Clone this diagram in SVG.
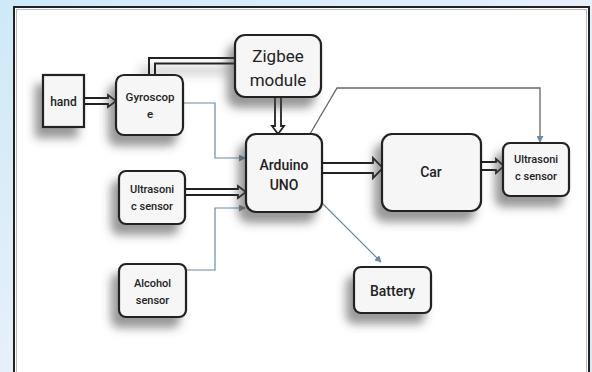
<svg xmlns="http://www.w3.org/2000/svg" width="592" height="372" viewBox="0 0 592 372">
<defs>
<linearGradient id="bg" x1="0" y1="0" x2="1" y2="1">
<stop offset="0" stop-color="#cfe9f7"/>
<stop offset="0.5" stop-color="#e6f0fa"/>
<stop offset="1" stop-color="#dbe8f6"/>
</linearGradient>
<filter id="sh" x="-40%" y="-40%" width="180%" height="200%">
<feDropShadow dx="-7" dy="10" stdDeviation="5" flood-color="#444" flood-opacity="0.55"/>
</filter>
<marker id="ah" viewBox="0 0 8 8" refX="7" refY="4" markerWidth="7" markerHeight="7" markerUnits="userSpaceOnUse" orient="auto">
<path d="M0,0 L8,4 L0,8 z" fill="#6a8aa3"/>
</marker>
<style>
.box{fill:#f6f6f6;stroke:#222;stroke-width:2.2;filter:url(#sh)}
.t{font-family:Roboto,"Liberation Sans",sans-serif;fill:#222;text-anchor:middle;font-weight:500}
.r{font-weight:400}
.thin{fill:none;stroke:#6a8aa3;stroke-width:1.2}
.gray{fill:none;stroke:#666;stroke-width:1.3}
.fat{fill:#fff;stroke:#222;stroke-width:1.8;stroke-linejoin:miter}
</style>
</defs>
<rect x="0" y="0" width="592" height="372" fill="url(#bg)"/>
<rect x="14" y="7" width="575" height="380" fill="#fff" stroke="#222" stroke-width="2"/>
<rect x="16.5" y="9.5" width="570" height="380" fill="none" stroke="#bbb" stroke-width="1"/>

<g id="connectors">
<path class="fat" d="M84,98 H108 V95 L116,101 L108,107 V104 H84"/>
<g filter="url(#sh)">
<path d="M149,75 V58 H236" fill="none" stroke="#222" stroke-width="2"/>
<path d="M155,75 V63.5 H236" fill="none" stroke="#222" stroke-width="2"/>
</g>
<path class="fat" d="M275,97 V126 H272 L278,134 L284,126 H281 V97"/>
<path class="thin" d="M183,103 H215 V158 H245" marker-end="url(#ah)"/>
<path class="fat" d="M185,189 H238 V186 L246,192 L238,198 V195 H185"/>
<path class="thin" d="M186,270 H215 V208 H245" marker-end="url(#ah)"/>
<path class="fat" d="M322,163 H373 V158 L383,168 L373,178 V173 H322"/>
<path class="fat" d="M481,162 H496 V159 L504,166 L496,173 V170 H481"/>
<path class="gray" d="M310,134 L337,88 H540 V142" marker-end="url(#ah)"/>
<path class="thin" d="M322,203 L381,262" marker-end="url(#ah)"/>
</g>

<g id="hand">
<rect class="box" x="43" y="75" width="41" height="52" rx="0"/>
<text class="t" x="63.5" y="106" font-size="12">hand</text>
</g>
<g id="gyroscope">
<rect class="box" x="116" y="75" width="67" height="60" rx="8"/>
<text class="t" x="150" y="101" font-size="11.5">Gyroscop</text>
<text class="t" x="150" y="118" font-size="11.5">e</text>
</g>
<g id="zigbee">
<rect class="box" x="235" y="35" width="86" height="62" rx="10"/>
<text class="t r" x="278" y="62" font-size="17">Zigbee</text>
<text class="t r" x="278" y="86" font-size="17">module</text>
</g>
<g id="arduino">
<rect class="box" x="246" y="134" width="76" height="78" rx="10"/>
<text class="t" x="284" y="170" font-size="14">Arduino</text>
<text class="t" x="284" y="190" font-size="14">UNO</text>
</g>
<g id="car">
<rect class="box" x="382" y="134" width="99" height="77" rx="10"/>
<text class="t" x="431" y="177" font-size="14">Car</text>
</g>
<g id="ultrasonic-right">
<rect class="box" x="503" y="143" width="66" height="53" rx="7"/>
<text class="t" x="536" y="163" font-size="11">Ultrasoni</text>
<text class="t" x="536" y="180" font-size="11">c sensor</text>
</g>
<g id="ultrasonic-left">
<rect class="box" x="119" y="171" width="66" height="53" rx="7"/>
<text class="t" x="152" y="193" font-size="11">Ultrasoni</text>
<text class="t" x="152" y="210" font-size="11">c sensor</text>
</g>
<g id="alcohol">
<rect class="box" x="119" y="264" width="67" height="53" rx="7"/>
<text class="t" x="152.5" y="287" font-size="11">Alcohol</text>
<text class="t" x="152.5" y="304" font-size="11">sensor</text>
</g>
<g id="battery">
<rect class="box" x="354" y="267" width="77" height="46" rx="7"/>
<text class="t" x="392.5" y="296" font-size="14">Battery</text>
</g>
</svg>
